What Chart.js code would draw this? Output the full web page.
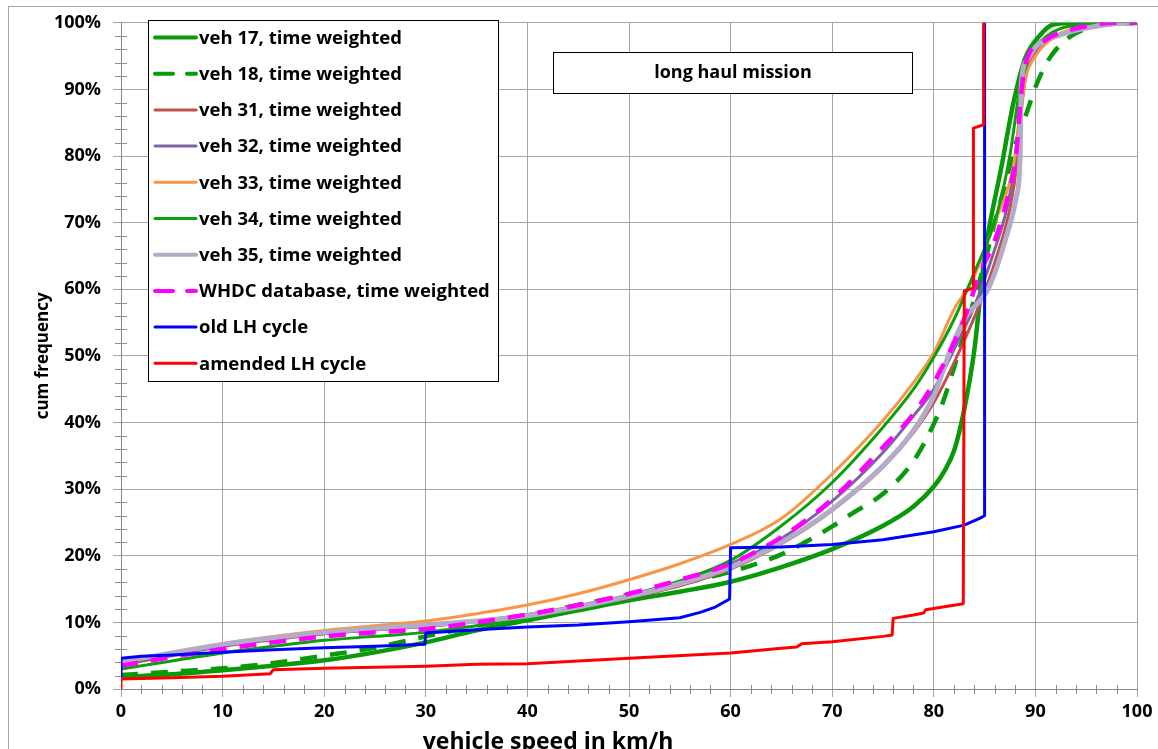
<!DOCTYPE html>
<html>
<head>
<meta charset="utf-8">
<script src="https://cdn.jsdelivr.net/npm/chart.js@4.4.1/dist/chart.umd.min.js"></script>
<style>
html,body{margin:0;padding:0;background:#fff;}
#wrap{width:1158px;height:749px;position:relative;}
</style>
</head>
<body>
<div id="wrap"><canvas id="c" width="1158" height="749"></canvas></div>
<script>
// ---- data (x: vehicle speed km/h, y: cumulative frequency %) ----
const xTicks = [0,10,20,30,40,50,60,70,80,90,100];
const yTicks = [0,10,20,30,40,50,60,70,80,90,100];
const seriesLabels = ["veh 17, time weighted","veh 18, time weighted","veh 31, time weighted","veh 32, time weighted","veh 33, time weighted","veh 34, time weighted","veh 35, time weighted","WHDC database, time weighted","old LH cycle","amended LH cycle"];
const veh17 = [[0,1.8],[5,2.2],[10,2.8],[15,3.5],[20,4.3],[25,5.5],[30,7.0],[35,8.8],[40,10.3],[45,11.8],[50,13.3],[55,14.6],[60,16.1],[65,18.3],[70,21.0],[75,24.5],[78,27.4],[80,30.4],[81,32.6],[82,35.8],[83,42],[84,51],[85,65],[86.7,78.7],[87.8,87.7],[89,94.7],[90.5,98.2],[91.7,99.7],[94,100],[100,100]];
const veh18 = [[0,2.1],[5,2.6],[10,3.1],[15,3.9],[20,5.0],[25,6.2],[30,7.9],[35,9.5],[40,11.0],[45,12.6],[50,14.2],[55,15.8],[60,17.6],[65,20.2],[68,22.6],[70,24.4],[72,26.4],[75,29.3],[78,34.2],[80,39.8],[81,43.5],[82,48.3],[83,53.4],[85,64],[86,70],[87.2,76.7],[88,81.5],[89.1,86.3],[90.1,90.7],[91.4,94.7],[93.4,97.9],[95.7,99.4],[100,100]];
const veh31 = [[0,3.6],[5,5.0],[10,6.4],[15,7.4],[20,8.3],[25,8.9],[30,9.4],[35,10.1],[40,11.0],[45,12.2],[50,13.7],[55,15.5],[60,18.0],[65,21.8],[70,26.8],[75,33.3],[78,38.5],[80,43.0],[82,49],[84.5,57.7],[86,64],[87.5,72.2],[88.2,79],[88.7,88],[89.2,93],[90,95.5],[92,98],[95,99.4],[100,100]];
const veh32 = [[0,3.8],[5,5.1],[10,6.5],[15,7.5],[20,8.3],[25,8.9],[30,9.4],[35,10.2],[40,11.2],[45,12.5],[50,14.1],[55,16.2],[60,18.8],[65,22.6],[70,28.2],[75,35.5],[78,41],[80,45],[82,51],[84,57.5],[86,66],[87.2,72.2],[88,79],[88.6,89],[89.1,93.5],[90,95.8],[92,98],[95,99.4],[100,100]];
const veh33 = [[0,4.0],[5,5.4],[10,6.8],[15,7.9],[20,8.8],[25,9.5],[30,10.2],[35,11.3],[40,12.6],[45,14.3],[50,16.4],[55,18.8],[60,21.7],[65,25.6],[70,32.3],[75,40.3],[78,46],[80,50.5],[82,57],[83.9,61.7],[85,66],[86,70],[87.8,78.2],[88.5,86],[89,91.5],[90,95],[92,98],[95,99.5],[100,100]];
const veh34 = [[0,3.0],[5,4.2],[10,5.4],[15,6.4],[20,7.3],[25,7.9],[30,8.5],[35,9.5],[40,10.6],[45,12.1],[50,13.8],[55,16.2],[60,19.3],[65,24.5],[70,31.0],[75,39.3],[78,45.0],[80,49.8],[82,55.5],[83.9,62.2],[86.2,71.2],[87.5,80.2],[88.5,90.3],[89.5,95.1],[90.8,97.6],[92.4,99.1],[95,99.8],[100,100]];
const veh35 = [[0,4.1],[5,5.4],[10,6.7],[15,7.7],[20,8.5],[25,9.1],[30,9.6],[35,10.2],[40,11.0],[45,12.3],[50,13.9],[55,15.8],[60,18.3],[65,22],[70,27.0],[75,33.5],[78,38.8],[80,44.0],[81.6,50.7],[83,55.5],[85.4,60.2],[87.2,68.2],[88.1,73.7],[88.5,80.2],[88.6,90.3],[89.1,94.2],[90.1,96.5],[92.1,98],[95,99.2],[98,99.9],[100,100]];
const whdc = [[0,3.5],[5,4.8],[10,6.0],[15,7.0],[20,7.9],[25,8.5],[30,9.0],[35,10.0],[40,11.2],[45,12.6],[50,14.3],[55,16.4],[60,18.8],[65,22.8],[70,28.5],[75,36.3],[78,41.3],[80,46],[82.9,55.2],[84.5,62.2],[86.2,68.2],[87.5,75.2],[88.1,80.2],[88.6,89.3],[89,93.7],[90.8,97.2],[94.7,99.4],[98,100],[100,100]];
const oldLH = [[0,1.8],[0,4.6],[2,4.9],[5,5.1],[10,5.5],[15,5.9],[20,6.2],[25,6.4],[29.9,6.7],[30,8.4],[35,8.9],[40,9.3],[45,9.6],[50,10.1],[55,10.7],[57,11.5],[58.5,12.3],[59.9,13.5],[60,21.2],[65,21.3],[70,21.7],[75,22.4],[80,23.6],[83,24.6],[84.5,25.6],[85,26],[85,100]];
const amendedLH = [[0,0],[0,1.5],[5,1.7],[10,1.9],[14.7,2.3],[15,2.9],[20,3.1],[30,3.4],[35,3.7],[40,3.8],[50,4.6],[60,5.4],[65,6.1],[66.5,6.3],[67,6.8],[70,7.1],[75,7.9],[75.9,8.1],[76,10.6],[78,11.1],[79,11.4],[79.2,11.9],[82.9,12.8],[83,59.7],[83.9,60.2],[83.9,84.2],[84.9,84.7],[84.9,100]];

const FONT = "'Open Sans', sans-serif";
const toPts = a => a.map(p => ({x:p[0], y:p[1]}));

const styles = [
  {c:'#089A08', w:4.5, dash:[], smooth:true},
  {c:'#089A08', w:4.5, dash:[17,13], smooth:true},
  {c:'#C0504D', w:3, dash:[], smooth:true},
  {c:'#8064A2', w:3, dash:[], smooth:true},
  {c:'#F79646', w:3, dash:[], smooth:true},
  {c:'#0CA00C', w:3, dash:[], smooth:true},
  {c:'#B4ABC9', w:5, dash:[], smooth:true},
  {c:'#FF00FF', w:4.5, dash:[17,13], smooth:true},
  {c:'#0000FF', w:3, dash:[], smooth:false},
  {c:'#FF0000', w:3, dash:[], smooth:false}
];
const allData = [veh17,veh18,veh31,veh32,veh33,veh34,veh35,whdc,oldLH,amendedLH];

const datasets = allData.map((d,i) => ({
  label: seriesLabels[i],
  data: toPts(d),
  borderColor: styles[i].c,
  backgroundColor: styles[i].c,
  borderWidth: styles[i].w,
  borderDash: styles[i].dash,
  pointRadius: 0,
  fill: false,
  tension: styles[i].smooth ? 0.3 : 0,
  cubicInterpolationMode: styles[i].smooth ? 'monotone' : 'default',
  borderJoinStyle: 'round',
  order: allData.length - i
}));

const framePlugin = {
  id: 'frame',
  beforeDraw(chart) {
    const ctx = chart.ctx;
    ctx.save();
    ctx.fillStyle = '#fff';
    ctx.fillRect(0,0,chart.width,chart.height);
    ctx.strokeStyle = '#A6A6A6';
    ctx.lineWidth = 1;
    ctx.strokeRect(8.5, 6.5, 2000, 2000);
    ctx.restore();
  },
  beforeDatasetsDraw(chart) {
    const ctx = chart.ctx, xs = chart.scales.x, ys = chart.scales.y;
    ctx.save();
    ctx.strokeStyle = '#8C8C8C';
    ctx.lineWidth = 1;
    ctx.beginPath();
    for (let v = 2; v < 100; v += 2) {
      if (v % 10 === 0) continue;
      const px = Math.round(xs.getPixelForValue(v)) + 0.5;
      const py = ys.getPixelForValue(0);
      ctx.moveTo(px, py - 4); ctx.lineTo(px, py + 5);
    }
    for (let v = 2; v < 100; v += 2) {
      if (v % 10 === 0) continue;
      const py = Math.round(ys.getPixelForValue(v)) + 0.5;
      const px = xs.getPixelForValue(0);
      ctx.moveTo(px - 6, py); ctx.lineTo(px + 6, py);
    }
    ctx.stroke();
    ctx.restore();
  },
  afterDraw(chart) {
    const ctx = chart.ctx;
    ctx.save();
    // x axis title
    ctx.fillStyle = '#000';
    ctx.font = "bold 23px " + FONT;
    ctx.textAlign = 'center';
    ctx.textBaseline = 'alphabetic';
    ctx.fillText('vehicle speed in km/h', 548, 749);
    // title box
    ctx.fillStyle = '#fff';
    ctx.fillRect(553, 52, 359, 41);
    ctx.strokeStyle = '#000';
    ctx.lineWidth = 1;
    ctx.strokeRect(553.5, 52.5, 359, 41);
    ctx.fillStyle = '#000';
    ctx.font = "bold 18px " + FONT;
    ctx.textAlign = 'center';
    ctx.textBaseline = 'middle';
    ctx.fillText('long haul mission', 733, 73);
    // legend box
    ctx.fillStyle = '#fff';
    ctx.fillRect(148, 20, 350, 361);
    ctx.strokeStyle = '#000';
    ctx.strokeRect(148.5, 20.5, 350, 361);
    ctx.textAlign = 'left';
    ctx.font = "bold 18.5px " + FONT;
    chart.data.datasets.forEach((ds, i) => {
      const y = 37.5 + i * 36.2;
      ctx.strokeStyle = ds.borderColor;
      ctx.lineWidth = Math.min(ds.borderWidth, 4);
      ctx.setLineDash(ds.borderDash && ds.borderDash.length ? [18, 14] : []);
      ctx.lineCap = 'round';
      ctx.beginPath();
      ctx.moveTo(155, y); ctx.lineTo(196, y);
      ctx.stroke();
      ctx.setLineDash([]);
      ctx.fillStyle = '#000';
      ctx.fillText(ds.label, 199, y + 1);
    });
    ctx.restore();
  }
};

new Chart(document.getElementById('c'), {
  type: 'line',
  data: { datasets },
  plugins: [framePlugin],
  options: {
    responsive: false,
    animation: false,
    layout: { padding: { left: 0, right: 21, top: 21, bottom: 0 } },
    plugins: { legend: { display: false }, tooltip: { enabled: false } },
    scales: {
      x: {
        type: 'linear', min: 0, max: 100,
        afterFit: s => { s.height = 60; },
        afterBuildTicks: s => { s.ticks = xTicks.map(v => ({value: v})); },
        ticks: { color: '#000', font: { family: FONT, size: 18, weight: 'bold' }, padding: 4, maxRotation: 0 },
        grid: { color: '#A6A6A6', lineWidth: 1, tickLength: 8 },
        border: { color: '#868686', width: 1 },
        title: { display: false }
      },
      y: {
        type: 'linear', min: 0, max: 100,
        afterFit: s => { s.width = 121; },
        afterBuildTicks: s => { s.ticks = yTicks.map(v => ({value: v})); },
        ticks: { color: '#000', font: { family: FONT, size: 18, weight: 'bold' }, padding: 12, callback: v => v + '%' },
        grid: { color: '#A6A6A6', lineWidth: 1, tickLength: 8 },
        border: { color: '#868686', width: 1 },
        title: { display: true, text: 'cum frequency', color: '#000', font: { family: FONT, size: 17, weight: 'bold' }, padding: { top: 33, bottom: 0 } }
      }
    }
  }
});
</script>
</body>
</html>
